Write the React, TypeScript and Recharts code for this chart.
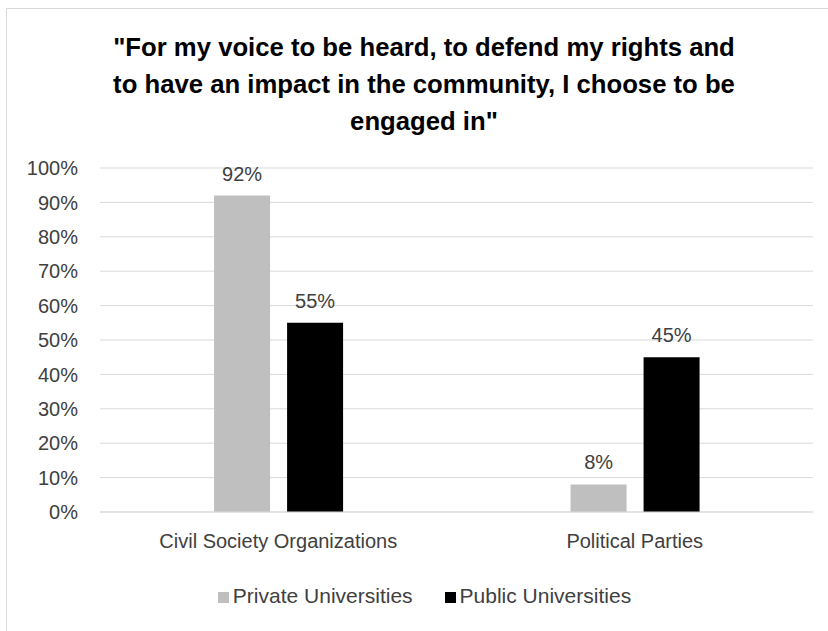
import React from "react";
import {
  BarChart,
  Bar,
  XAxis,
  YAxis,
  CartesianGrid,
  Legend,
  LabelList,
} from "recharts";

const categories = ["Civil Society Organizations", "Political Parties"];
const privateUniversities = [92, 8];
const publicUniversities = [55, 45];
const yTicks = [0, 10, 20, 30, 40, 50, 60, 70, 80, 90, 100];

const titleLines = [
  "\"For my voice to be heard, to defend my rights and",
  "to have an impact in the community, I choose to be",
  "engaged in\"",
];

const data = categories.map((name, i) => ({
  name,
  priv: privateUniversities[i],
  pub: publicUniversities[i],
}));

const FONT = "'Liberation Sans', Arial, sans-serif";

const pct = (v: number) => `${v}%`;

const App: React.FC = () => {
  return (
    <div
      style={{
        position: "absolute",
        left: 0,
        top: 0,
        width: 828,
        height: 631,
        background: "#fff",
        fontFamily: FONT,
        overflow: "hidden",
      }}
    >
      {/* chart frame */}
      <div
        style={{
          position: "absolute",
          left: 6,
          top: 8,
          width: 840,
          height: 640,
          border: "1px solid #d9d9d9",
        }}
      />
      <div
        style={{
          position: "absolute",
          left: 0,
          top: 29,
          width: 848,
          textAlign: "center",
          fontWeight: "bold",
          fontSize: 25.7,
          lineHeight: "37px",
          color: "#000",
        }}
      >
        {titleLines.map((l) => (
          <div key={l}>{l}</div>
        ))}
      </div>
      <div style={{ position: "absolute", left: 0, top: 0 }}>
        <BarChart
          width={828}
          height={631}
          data={data}
          margin={{ top: 168, right: 15, bottom: 17, left: 20 }}
          barCategoryGap="32%"
          barGap={17}
        >
          <CartesianGrid
            vertical={false}
            stroke="#d9d9d9"
            strokeWidth={1}
          />
          <XAxis
            dataKey="name"
            height={72}
            tickLine={false}
            axisLine={{ stroke: "#d9d9d9" }}
            tickSize={0}
            tickMargin={22}
            tick={{ fill: "#404040", fontSize: 20, fontFamily: FONT }}
          />
          <YAxis
            width={80}
            domain={[0, 100]}
            ticks={yTicks}
            interval={0}
            tickFormatter={pct}
            tickLine={false}
            axisLine={false}
            tickSize={0}
            tickMargin={22}
            tick={{ fill: "#404040", fontSize: 20, fontFamily: FONT }}
          />
          <Legend
            verticalAlign="bottom"
            height={30}
            iconType="square"
            iconSize={11}
            wrapperStyle={{ fontFamily: FONT, fontSize: 21, marginLeft: 24 }}
            formatter={(v: string) => (
              <span style={{ color: "#404040", marginRight: 22 }}>{v}</span>
            )}
          />
          <Bar
            dataKey="priv"
            name="Private Universities"
            fill="#bfbfbf"
            isAnimationActive={false}
          >
            <LabelList
              dataKey="priv"
              position="top"
              offset={15}
              formatter={pct}
              style={{ fill: "#404040", fontSize: 20, fontFamily: FONT }}
            />
          </Bar>
          <Bar
            dataKey="pub"
            name="Public Universities"
            fill="#000000"
            isAnimationActive={false}
          >
            <LabelList
              dataKey="pub"
              position="top"
              offset={15}
              formatter={pct}
              style={{ fill: "#404040", fontSize: 20, fontFamily: FONT }}
            />
          </Bar>
        </BarChart>
      </div>
    </div>
  );
};

export default App;
